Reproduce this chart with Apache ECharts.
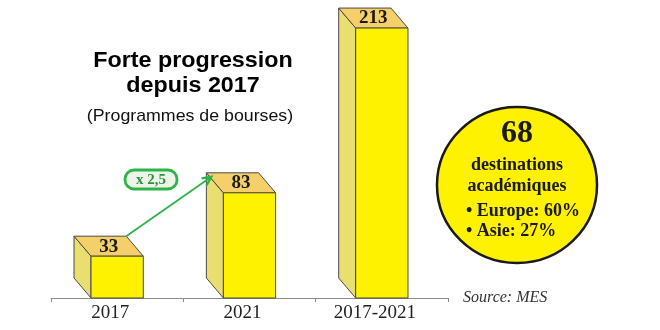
<!DOCTYPE html>
<html>
<head>
<meta charset="utf-8">
<script src="https://cdn.jsdelivr.net/npm/echarts@6/dist/echarts.min.js"></script>
<style>
  html, body { margin: 0; padding: 0; background: #fff; }
  #chart { width: 660px; height: 330px; }
</style>
</head>
<body>
<div id="chart"></div>
<script>
// Programmes de bourses par période
const categories = ['2017', '2021', '2017-2021'];
const bourses = [33, 83, 213];
const growthLabel = 'x 2,5';
const circleLines = ['68', 'destinations', 'académiques', '• Europe: 60%', '• Asie: 27%'];

const SERIF = '"Liberation Serif", "DejaVu Serif", serif';
const SANS = '"Liberation Sans", Arial, sans-serif';
const FRONT = '#FFF200';
const SIDE = '#E9DF70';
const TOP = '#F5D06A';
const EDGE = '#4a4a4a';
const DX = -17, DY = -20; // depth offset of the box

const chart = echarts.init(document.getElementById('chart'), null, { renderer: 'canvas' });

function renderBox(params, api) {
  const idx = api.value(0);
  const val = api.value(1);
  const top = api.coord([idx, val]);
  const base = api.coord([idx, 0]);
  const w = api.size([1, 0])[0] * 0.395;
  const x0 = top[0] - w / 2, x1 = top[0] + w / 2;
  const yT = top[1], yB = base[1];
  const line = { stroke: EDGE, lineWidth: 1 };
  return {
    type: 'group',
    children: [
      { type: 'polygon', shape: { points: [[x0, yT], [x0 + DX, yT + DY], [x0 + DX, yB + DY], [x0, yB]] },
        style: Object.assign({ fill: SIDE }, line) },
      { type: 'polygon', shape: { points: [[x0, yT], [x0 + DX, yT + DY], [x1 + DX, yT + DY], [x1, yT]] },
        style: Object.assign({ fill: TOP }, line) },
      { type: 'rect', shape: { x: x0, y: yT, width: w, height: yB - yT },
        style: Object.assign({ fill: FRONT }, line) },
      { type: 'text', x: top[0] + DX / 2, y: yT + DY / 2 + 0.5,
        style: { text: String(val), fill: '#1a1a1a', font: 'bold 19px ' + SERIF,
                 textAlign: 'center', textVerticalAlign: 'middle' } }
    ]
  };
}

chart.setOption({
  backgroundColor: '#fff',
  animation: false,
  grid: { left: 51, right: 212, top: 4, bottom: 32 },
  xAxis: {
    type: 'category',
    data: categories,
    boundaryGap: true,
    axisLine: { lineStyle: { color: '#8a8a8a', width: 1.2 } },
    axisTick: { show: true, length: 4, alignWithLabel: false, lineStyle: { color: '#8a8a8a' } },
    axisLabel: { color: '#222', fontFamily: SERIF, fontSize: 19, margin: 6, padding: [0, 14, 0, 0] }
  },
  yAxis: { type: 'value', min: 0, max: 232, show: false, splitLine: { show: false } },
  series: [{
    type: 'custom',
    renderItem: renderBox,
    data: bourses.map((v, i) => [i, v]),
    encode: { x: 0, y: 1 },
    z: 3
  }]
});

// Annotations placed from the data through the axis scales
const from = chart.convertToPixel({ gridIndex: 0 }, [0, bourses[0]]);
const to = chart.convertToPixel({ gridIndex: 0 }, [1, bourses[1]]);
const w = 132 * 0.395;
const ax0 = from[0] + w / 2 + DX, ay0 = from[1] + DY;   // back right corner of first box
const ax1 = to[0] - w / 2 + DX + 5, ay1 = to[1] + DY + 4; // back left corner of second box
const ang = Math.atan2(ay1 - ay0, ax1 - ax0);
const head = 10;
const GREEN = '#2DB34A';

const circleY = [134, 165, 186, 211, 231];
const circleText = circleLines.map((t, i) => ({
  type: 'text',
  x: i < 3 ? 517 : 466,
  y: circleY[i],
  style: {
    text: t,
    fill: '#1a1a1a',
    font: 'bold ' + (i === 0 ? 32 : 18) + 'px ' + SERIF,
    textAlign: i < 3 ? 'center' : 'left',
    textVerticalAlign: 'middle'
  },
  z: 12
}));

chart.setOption({
  graphic: [
    { type: 'text', x: 193, y: 61, scaleX: 1.06, style: { text: 'Forte progression', font: 'bold 22px ' + SANS, fill: '#000', textAlign: 'center', textVerticalAlign: 'middle' } },
    { type: 'text', x: 193, y: 86, scaleX: 1.06, style: { text: 'depuis 2017', font: 'bold 22px ' + SANS, fill: '#000', textAlign: 'center', textVerticalAlign: 'middle' } },
    { type: 'text', x: 190, y: 116, scaleX: 1.045, style: { text: '(Programmes de bourses)', font: '17px ' + SANS, fill: '#111', textAlign: 'center', textVerticalAlign: 'middle' } },
    { type: 'line', shape: { x1: ax0, y1: ay0, x2: ax1, y2: ay1 }, style: { stroke: GREEN, lineWidth: 1.8 }, z: 10 },
    { type: 'polyline', shape: { points: [
        [ax1 - head * Math.cos(ang - 0.45), ay1 - head * Math.sin(ang - 0.45)],
        [ax1, ay1],
        [ax1 - head * Math.cos(ang + 0.45), ay1 - head * Math.sin(ang + 0.45)]
      ] }, style: { stroke: GREEN, lineWidth: 2.2, fill: null }, z: 10 },
    { type: 'rect', shape: { x: 125, y: 170, width: 52, height: 19, r: 9 },
      style: { fill: '#EEF4E8', stroke: GREEN, lineWidth: 2.8 }, z: 10 },
    { type: 'text', x: 151, y: 180, style: { text: growthLabel, font: 'bold 15px ' + SERIF, fill: '#2A9444', textAlign: 'center', textVerticalAlign: 'middle' }, z: 11 },
    { type: 'ellipse', shape: { cx: 517, cy: 185, rx: 80, ry: 78 },
      style: { fill: FRONT, stroke: '#1a1a1a', lineWidth: 2.5 }, z: 10 },
    ...circleText,
    { type: 'text', x: 463, y: 298, style: { text: 'Source: MES', font: 'italic 16px ' + SERIF, fill: '#333', textAlign: 'left', textVerticalAlign: 'middle' } }
  ]
});
</script>
</body>
</html>
